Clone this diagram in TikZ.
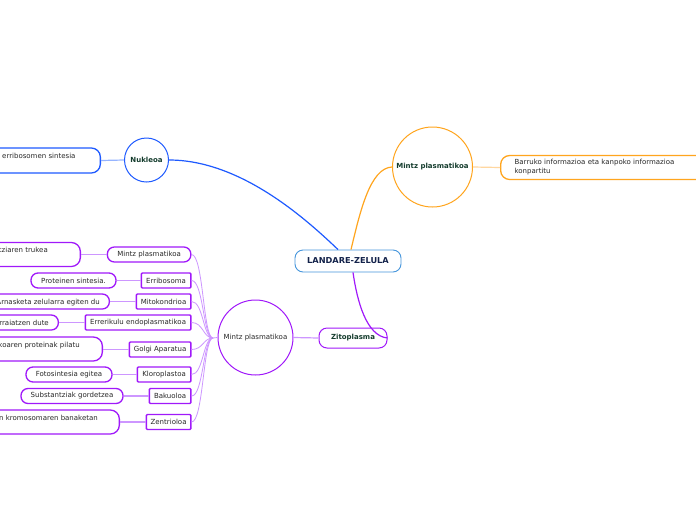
\documentclass[tikz,border=0pt]{standalone}
\usepackage{fontspec}
\setmainfont{DejaVu Sans}
\definecolor{pur}{RGB}{160,25,250}
\definecolor{lpur}{RGB}{205,150,255}
\definecolor{blu}{RGB}{30,90,255}
\definecolor{lblu}{RGB}{150,180,255}
\definecolor{cblu}{RGB}{70,150,220}
\definecolor{ora}{RGB}{255,165,30}
\definecolor{lora}{RGB}{255,215,160}
\definecolor{dgreen}{RGB}{20,60,45}
\definecolor{navy}{RGB}{20,35,75}
\definecolor{txt}{RGB}{40,40,40}
\newcommand{\fs}{\fontsize{7}{9}\selectfont}
\begin{document}
\begin{tikzpicture}[x=1pt,y=-1pt,
  every node/.style={font=\fs, text=txt, inner sep=0pt},
  circ/.style={circle, line width=1pt, fill=white},
  title/.style={font=\fs\bfseries, text=dgreen},
  obox/.style={draw=pur, line width=1.3pt, rounded corners=1pt, minimum height=15, anchor=east, fill=white},
  lbox/.style={draw=pur, line width=1.3pt, rounded corners=7pt, minimum height=15, fill=white},
  tbox/.style={draw=pur, line width=1.3pt, rounded corners=9pt, minimum height=24, anchor=east, fill=white},
  thin/.style={lpur, line width=1.2pt},
  fanl/.style={lpur, line width=0.8pt},
]
\clip (0,0) rectangle (696,520);
\fill[white] (0,0) rectangle (696,520);

% central
\node[draw=cblu, line width=0.9pt, rounded corners=8pt, minimum width=106, minimum height=22,
      font=\fontsize{8.2}{10}\selectfont\bfseries, text=navy, fill=white] (c) at (348,261) {LANDARE-ZELULA};

% Nukleoa branch
\node[circ, draw=blu, minimum size=44, title] (nuk) at (146.5,160) {Nukleoa};
\node[draw=blu, line width=1.3pt, rounded corners=9pt, minimum width=200, minimum height=25, anchor=east] (nukl) at (101,160.5) {};
\node[anchor=base west] (nuklt) at (2,158.5) {erribosomen sintesia};
\draw[lblu, line width=1.2pt] (nuk.west) -- (nukl.east);
\draw[blu, line width=1.2pt] (nuk.east) .. controls (240,160) and (305,218) .. (c.north -| 338,0);

% Mintz plasmatikoa (orange) branch
\node[circ, draw=ora, minimum size=80, title] (mo) at (432.5,167) {Mintz plasmatikoa};
\node[draw=ora, line width=1.3pt, rounded corners=9pt, minimum width=240, minimum height=24, anchor=west,
      align=left, text width=212, inner xsep=14pt] (bar) at (500,167.5) {Barruko informazioa eta kanpoko informazioa\\konpartitu};
\draw[lora, line width=1.2pt] (mo.east) -- (bar.west);
\draw[ora, line width=1.2pt] (c.north -| 351,0) .. controls (360,212) and (370,168) .. (mo.west);

% Zitoplasma branch
\node[draw=pur, line width=1pt, rounded corners=8pt, minimum width=68, minimum height=20, title, fill=white] (z) at (353,338) {Zitoplasma};
\draw[pur, line width=1.2pt] (c.south -| 353,0) .. controls (357,300) and (366,336) .. (z.east);
\node[circ, draw=pur, minimum size=75] (big) at (255.5,337.5) {Mintz plasmatikoa};
\draw[thin] (z.west) -- (big.east);
\coordinate (fan) at (213,338);
\draw[fanl] (big.west) -- (fan);

% organelle boxes
\node[obox, rounded corners=7pt, minimum width=83.5] (o1) at (191.5,254.5) {Mintz plasmatikoa};
\node[obox, minimum width=49.5] (o2) at (191.5,280.5) {Erribosoma};
\node[obox, minimum width=54.5] (o3) at (191.5,301.5) {Mitokondrioa};
\node[obox, minimum width=105.5] (o4) at (191.5,322.5) {Errerikulu endoplasmatikoa};
\node[obox, minimum width=61.5] (o5) at (191.5,349.5) {Golgi Aparatua};
\node[obox, minimum width=53.5] (o6) at (191.5,374.5) {Kloroplastoa};
\node[obox, minimum width=41.5] (o7) at (191.5,396) {Bakuoloa};
\node[obox, minimum width=44.5] (o8) at (191.5,422) {Zentrioloa};

\foreach \i in {1,...,8}{
  \draw[fanl] (fan) .. controls +(-10,0) and +(12,0) .. (o\i.east);
}

% description boxes
\node[tbox, minimum width=150] (l1) at (81,254.5) {};
\node[anchor=base east] (l1t) at (48,252.5) {tziaren trukea};
\node[lbox, minimum width=85] (l2) at (73.5,280.5) {Proteinen sintesia.};
\node[lbox, minimum width=150, anchor=east] (l3) at (110,301.5) {};
\node[anchor=base east] (l3t) at (100,304) {Arnasketa zelularra egiten du};
\node[lbox, minimum width=100, anchor=east] (l4) at (59,322.5) {};
\node[anchor=base east] (l4t) at (49,325) {rraiatzen dute};
\node[tbox, minimum width=150] (l5) at (103,349) {};
\node[anchor=base east] (l5t) at (80,347.5) {koaren proteinak pilatu};
\node[lbox, minimum width=86] (l6) at (69,374.5) {Fotosintesia egitea};
\node[lbox, minimum width=102] (l7) at (72,396) {Substantziak gordetzea};
\node[tbox, minimum width=180] (l8) at (120,422) {};
\node[anchor=base east] (l8t) at (98,420) {n kromosomaren banaketan};

\draw[thin] (l1.east) -- (o1.west);
\draw[thin] (l2.east) -- (o2.west);
\draw[thin] (l3.east) -- (o3.west);
\draw[thin] (l4.east) -- (o4.west);
\draw[thin] (l5.east |- o5.west) -- (o5.west);
\draw[thin] (l6.east) -- (o6.west);
\draw[thin] (l7.east) -- (o7.west);
\draw[thin] (l8.east) -- (o8.west);
\end{tikzpicture}
\end{document}
